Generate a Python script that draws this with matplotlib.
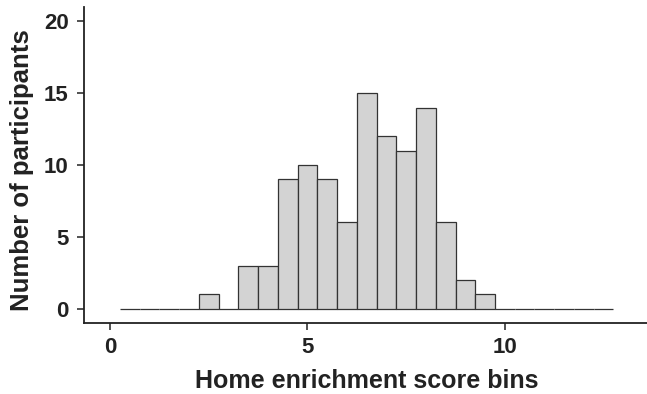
import matplotlib.pyplot as plt
import numpy as np

# bin centres (width 0.5) and counts
bin_centers = np.arange(0.5, 12.51, 0.5)
counts = [0, 0, 0, 0, 1, 0, 3, 3, 9, 10, 9, 6, 15, 12, 11, 14, 6, 2, 1, 0, 0, 0, 0, 0, 0]
x_ticks = [0, 5, 10]
y_ticks = [0, 5, 10, 15, 20]

plt.rcParams['font.family'] = ['Liberation Sans', 'DejaVu Sans']

fig = plt.figure(figsize=(6.47, 3.94), dpi=100)
ax = fig.add_axes([84 / 647, 71 / 394, 1 - 84 / 647, 316 / 394])

ax.bar(bin_centers, counts, width=0.5, color='#d3d3d3', edgecolor='#333333', linewidth=0.9)

ax.set_xlim(-0.66, 13.6)
ax.set_ylim(-1, 21)
ax.set_xticks(x_ticks)
ax.set_yticks(y_ticks)
for s in ['top', 'right']:
    ax.spines[s].set_visible(False)
for s in ['left', 'bottom']:
    ax.spines[s].set_linewidth(1.3)
    ax.spines[s].set_color('#222222')
ax.tick_params(length=5, width=1.2, color='#333333', labelsize=16, labelcolor='#222222')
ax.tick_params(axis='y', pad=6)
ax.tick_params(axis='x', pad=5)
for lab in ax.get_xticklabels() + ax.get_yticklabels():
    lab.set_fontweight('bold')

ax.set_xlabel('Home enrichment score bins', fontsize=18, fontweight='bold', color='#222222', va='center')
ax.xaxis.set_label_coords(0.502, -0.1835)
ax.set_ylabel('Number of participants', fontsize=18.5, fontweight='bold', color='#222222', va='center')
ax.yaxis.set_label_coords(-0.110, 0.484)

fig.savefig('out.png', dpi=100)
